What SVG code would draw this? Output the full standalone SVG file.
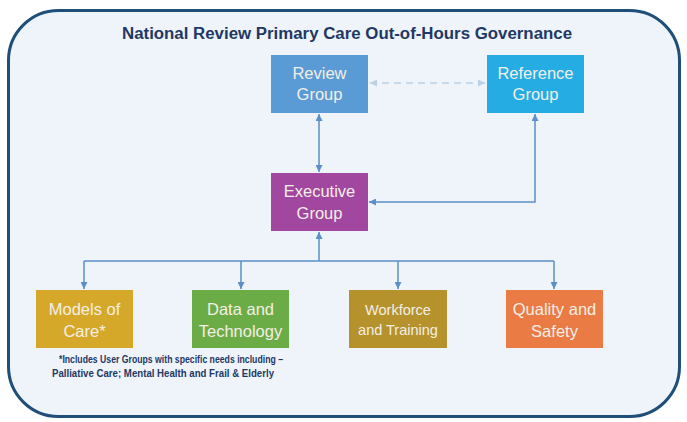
<svg xmlns="http://www.w3.org/2000/svg" width="687" height="422" viewBox="0 0 687 422">
<defs>
<style>
.t{font-family:"Liberation Sans",Arial,sans-serif;fill:#f3efe6;text-anchor:middle;font-size:16.5px}
.tw{font-size:14.5px}
.title{font-family:"Liberation Sans",Arial,sans-serif;font-weight:bold;fill:#1f3864;text-anchor:middle;font-size:16px}
.note{font-family:"Liberation Sans",Arial,sans-serif;font-weight:bold;fill:#1f3864;text-anchor:middle;font-size:10.5px}
.conn{stroke:#5b8fc9;stroke-width:1.5;fill:none}
.dash{stroke:#bcd0e4;stroke-width:1.5;fill:none;stroke-dasharray:7 5}
</style>
<marker id="ah" viewBox="0 0 10 10" refX="10" refY="5" markerWidth="7" markerHeight="7" orient="auto-start-reverse" markerUnits="userSpaceOnUse">
<path d="M0,0 L10,5 L0,10 z" fill="#5b8fc9"/>
</marker>
<marker id="ahl" viewBox="0 0 10 10" refX="10" refY="5" markerWidth="7" markerHeight="7" orient="auto-start-reverse" markerUnits="userSpaceOnUse">
<path d="M0,0 L10,5 L0,10 z" fill="#bcd0e4"/>
</marker>
</defs>
<rect x="8.5" y="10.5" width="671" height="406" rx="50" ry="50" fill="#eef4fa" stroke="#1f4e79" stroke-width="3"/>
<text class="title" x="347" y="39" textLength="450" lengthAdjust="spacingAndGlyphs">National Review Primary Care Out-of-Hours Governance</text>
<g id="connectors">
<line class="dash" x1="370" y1="83" x2="485" y2="83" marker-start="url(#ahl)" marker-end="url(#ahl)"/>
<line class="conn" x1="319" y1="114" x2="319" y2="172" marker-start="url(#ah)" marker-end="url(#ah)"/>
<polyline class="conn" points="535,114 535,202 369,202" marker-start="url(#ah)" marker-end="url(#ah)"/>
<line class="conn" x1="319" y1="261" x2="319" y2="232" marker-end="url(#ah)"/>
<line class="conn" x1="84" y1="261" x2="554" y2="261"/>
<line class="conn" x1="84" y1="261" x2="84" y2="289" marker-end="url(#ah)"/>
<line class="conn" x1="241" y1="261" x2="241" y2="289" marker-end="url(#ah)"/>
<line class="conn" x1="398" y1="261" x2="398" y2="289" marker-end="url(#ah)"/>
<line class="conn" x1="554" y1="261" x2="554" y2="289" marker-end="url(#ah)"/>
</g>
<g id="review">
<rect x="271" y="55" width="97" height="58" fill="#5b9bd5"/>
<text class="t" x="319.5" y="79">Review</text>
<text class="t" x="319.5" y="100">Group</text>
</g>
<g id="reference">
<rect x="487" y="55" width="97" height="58" fill="#25ade3"/>
<text class="t" x="535.5" y="79">Reference</text>
<text class="t" x="535.5" y="100">Group</text>
</g>
<g id="executive">
<rect x="271" y="173" width="97" height="58" fill="#a1479f"/>
<text class="t" x="319.5" y="197">Executive</text>
<text class="t" x="319.5" y="219">Group</text>
</g>
<g id="models">
<rect x="36" y="290" width="97" height="58" fill="#d6a82a"/>
<text class="t" x="84.5" y="315">Models of</text>
<text class="t" x="84.5" y="337">Care*</text>
</g>
<g id="data">
<rect x="192" y="290" width="97" height="58" fill="#6cac46"/>
<text class="t" x="240.5" y="315">Data and</text>
<text class="t" x="240.5" y="337">Technology</text>
</g>
<g id="workforce">
<rect x="349" y="290" width="98" height="58" fill="#b5922c"/>
<text class="t tw" x="398" y="315">Workforce</text>
<text class="t tw" x="398" y="335">and Training</text>
</g>
<g id="quality">
<rect x="506" y="290" width="97" height="58" fill="#ea7b45"/>
<text class="t" x="554.5" y="315">Quality and</text>
<text class="t" x="554.5" y="337">Safety</text>
</g>
<g id="footnote">
<text class="note" x="171" y="363" textLength="224" lengthAdjust="spacingAndGlyphs">*Includes User Groups with specific needs including –</text>
<text class="note" x="163" y="377" textLength="222" lengthAdjust="spacingAndGlyphs">Palliative Care; Mental Health and Frail &amp; Elderly</text>
</g>
</svg>
